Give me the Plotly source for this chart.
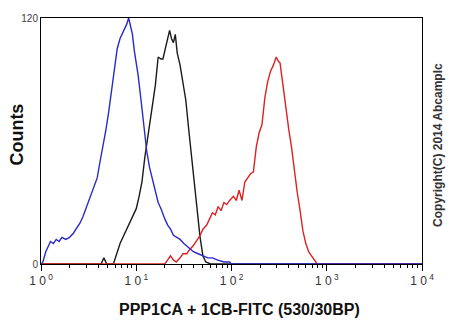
import plotly.graph_objects as go

# Read values: x in log10(fluorescence) decades, y = counts
blue_logx = [0.00, 0.02, 0.05, 0.08, 0.10, 0.13, 0.16, 0.19, 0.22, 0.26, 0.30, 0.34, 0.38, 0.41, 0.44,
             0.47, 0.50, 0.53, 0.56, 0.59, 0.62, 0.65, 0.68, 0.71, 0.74, 0.77, 0.80, 0.83, 0.86, 0.88,
             0.90, 0.92, 0.94, 0.96, 0.98, 1.00, 1.02, 1.05, 1.08, 1.11, 1.14, 1.17, 1.20, 1.23, 1.26,
             1.28, 1.30, 1.33, 1.36, 1.39, 1.42, 1.46, 1.50, 1.55, 1.60, 1.65, 1.70, 1.75, 1.80, 1.85,
             1.92, 1.98, 2.00, 4.00]
blue_counts = [0, 1, 6, 9, 11, 10, 12, 11, 13, 12, 13, 15, 18, 20, 23,
               27, 31, 35, 38, 42, 50, 57, 65, 74, 84, 94, 105, 110, 113, 115,
               117, 120, 116, 112, 104, 98, 92, 80, 67, 55, 47, 41, 36, 30, 27,
               24, 22, 19, 17, 14, 13, 12, 10, 8, 6, 5, 4, 3, 3, 2,
               1, 1, 0, 0]

black_logx = [0.00, 0.63, 0.66, 0.69, 0.76, 0.79, 0.83, 0.87, 0.90, 0.93, 0.96, 1.00, 1.03, 1.06, 1.09,
              1.12, 1.14, 1.17, 1.20, 1.23, 1.26, 1.28, 1.30, 1.32, 1.35, 1.37, 1.39, 1.41, 1.43, 1.46,
              1.49, 1.52, 1.55, 1.58, 1.61, 1.64, 1.67, 1.70, 1.73, 1.78, 4.00]
black_counts = [0, 0, 3, 0, 0, 4, 10, 14, 17, 20, 23, 27, 33, 40, 52,
                61, 69, 78, 87, 101, 100, 100, 104, 107, 114, 110, 108, 112, 103, 97,
                88, 80, 66, 52, 40, 27, 13, 4, 1, 0, 0]

red_logx = [0.00, 1.30, 1.33, 1.36, 1.39, 1.42, 1.46, 1.49, 1.53, 1.56, 1.60, 1.64, 1.67, 1.70, 1.74,
            1.77, 1.80, 1.83, 1.86, 1.89, 1.92, 1.95, 1.98, 2.02, 2.05, 2.08, 2.11, 2.14, 2.17, 2.20,
            2.23, 2.26, 2.29, 2.32, 2.35, 2.38, 2.41, 2.44, 2.47, 2.49, 2.51, 2.54, 2.57, 2.60, 2.63,
            2.66, 2.69, 2.72, 2.75, 2.78, 2.81, 2.84, 2.87, 2.90, 4.00]
red_counts = [0, 0, 2, 4, 2, 1, 3, 5, 5, 7, 9, 12, 14, 17, 19,
              22, 25, 24, 28, 26, 30, 29, 31, 33, 31, 36, 31, 40, 42, 44,
              45, 57, 64, 68, 81, 89, 94, 97, 101, 99, 98, 87, 75, 66, 57,
              45, 35, 26, 16, 10, 6, 4, 2, 0, 0]

x_tickvals = [1, 10, 100, 1000, 10000]
x_ticktext = ["1 0<sup> 0</sup>", "1 0<sup> 1</sup>", "1 0<sup> 2</sup>", "1 0<sup> 3</sup>", "1 0<sup> 4</sup>"]
minor_tickvals = [k * 10 ** d for d in range(4) for k in range(2, 10)]
y_tickvals = [0, 120]
y_ticktext = ["0", "120"]

fig = go.Figure()
for lx, cnt, col in [(black_logx, black_counts, "#1a1a1a"),
                     (red_logx, red_counts, "#dd2222"),
                     (blue_logx, blue_counts, "#2a2ac8")]:
    fig.add_trace(go.Scatter(x=[10 ** v for v in lx], y=cnt, mode="lines",
                             line=dict(color=col, width=1.4), showlegend=False, hoverinfo="skip"))

fig.update_layout(
    width=450, height=330,
    margin=dict(l=41, r=28, t=18, b=66),
    paper_bgcolor="white", plot_bgcolor="white",
    font=dict(family="Liberation Sans, Arial, sans-serif", color="#333333"),
    xaxis=dict(type="log", range=[0, 4], showline=True, linecolor="black", linewidth=1, mirror=True,
               showgrid=False, zeroline=False, tickmode="array", tickvals=x_tickvals, ticktext=x_ticktext,
               ticks="outside", ticklen=6, tickcolor="black", tickfont=dict(size=12, color="#333333"),
               minor=dict(tickmode="array", tickvals=minor_tickvals, ticks="outside", ticklen=3,
                          tickcolor="black", showgrid=False)),
    yaxis=dict(range=[0, 120], showline=True, linecolor="black", linewidth=1, mirror=True,
               showgrid=False, zeroline=False, tickmode="array", tickvals=y_tickvals, ticktext=y_ticktext,
               ticks="", tickfont=dict(size=10, color="#444444")),
)

fig.add_annotation(text="<b>PPP1CA + 1CB-FITC (530/30BP)</b>", xref="paper", yref="paper",
                   x=0.52, y=-0.142, xanchor="center", yanchor="top", showarrow=False,
                   font=dict(size=16, color="#111111"))
fig.add_annotation(text="<b>Counts</b>", xref="paper", yref="paper",
                   x=-0.0617, y=0.528, xanchor="center", yanchor="middle", textangle=-90, showarrow=False,
                   font=dict(size=18, color="#111111"))
fig.add_annotation(text="<b>Copyright(C) 2014 Abcamplc</b>", xref="paper", yref="paper",
                   x=1.042, y=0.484, xanchor="center", yanchor="middle", textangle=-90, showarrow=False,
                   font=dict(size=12, color="#333333"))

fig.write_html("out.html", config={"displayModeBar": False},
               post_script="document.body.style.margin='0';document.body.style.overflow='hidden';")
